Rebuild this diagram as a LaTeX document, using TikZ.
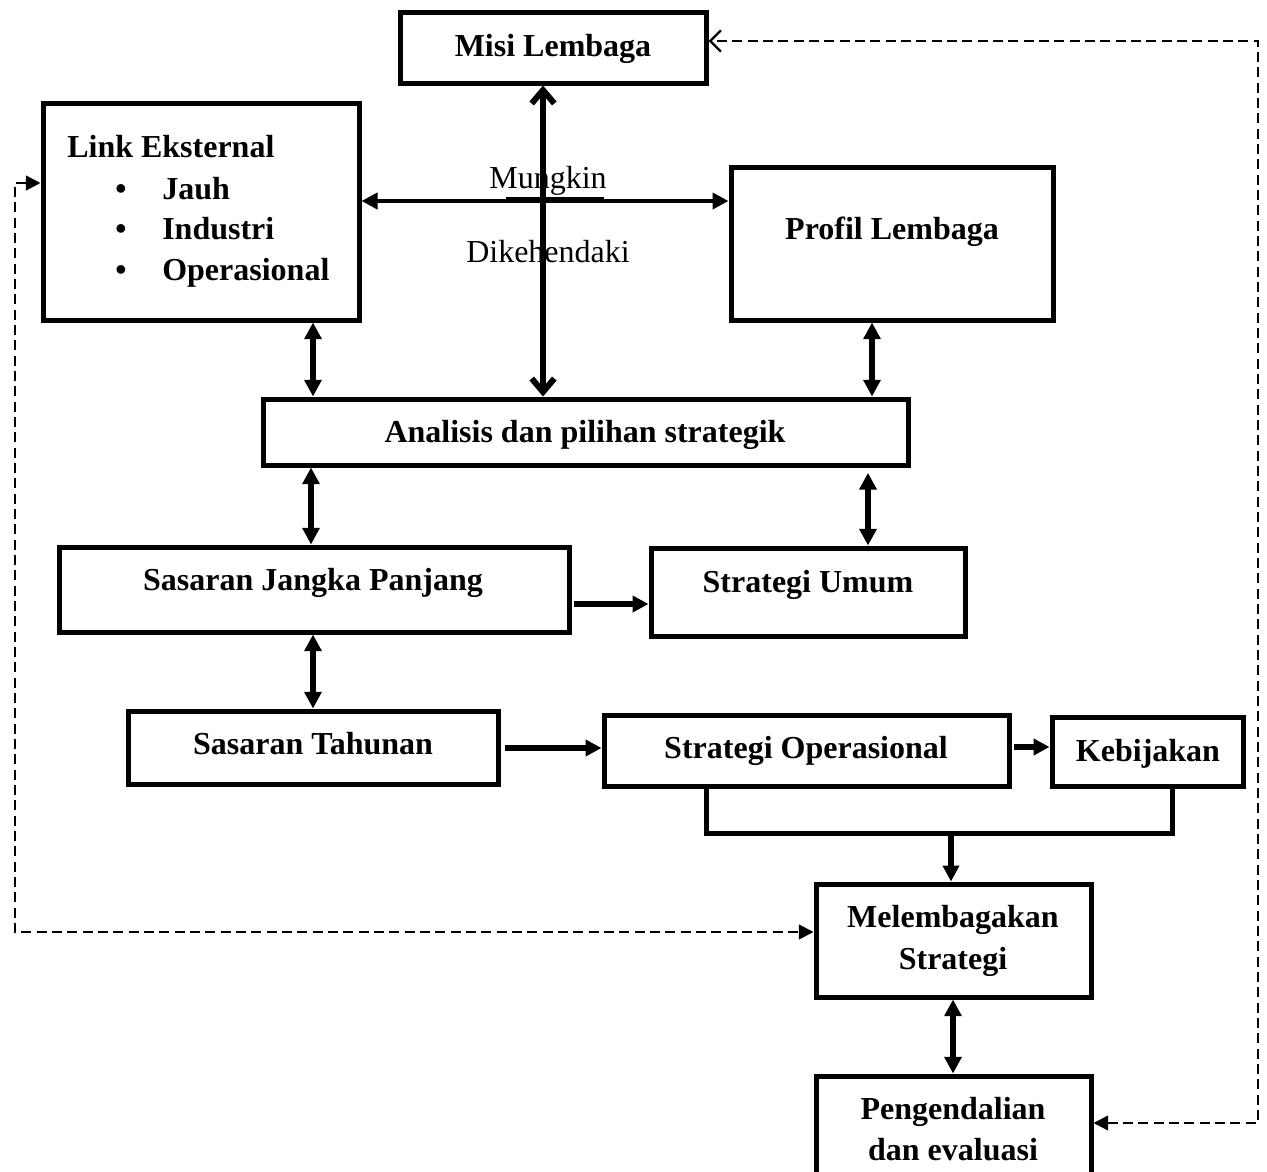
\documentclass[tikz,border=0pt]{standalone}
\usepackage{fontspec}
\setmainfont{Liberation Serif}
\usetikzlibrary{arrows.meta,fit}
\begin{document}
\begin{tikzpicture}[x=0.75pt,y=-0.75pt,
  box/.style={draw, line width=3.75pt, fill=white, inner sep=0pt},
  lbl/.style={font=\fontsize{24}{30}\selectfont\bfseries, inner sep=0pt, anchor=base},
  plainlbl/.style={font=\fontsize{24}{30}\selectfont, inner sep=0pt, anchor=base},
  bothways/.style={line width=4pt,
    {Triangle[length=12.5pt,width=12.5pt]}-{Triangle[length=12.5pt,width=12.5pt]}},
  oneway/.style={line width=4pt, -{Triangle[length=12pt,width=12pt]}},
  barbs/.style={line width=4.5pt,
    {Straight Barb[length=10pt,width=17pt]}-{Straight Barb[length=10pt,width=17pt]}},
  feedback/.style={line width=1.8pt, dash pattern=on 7.5pt off 4pt},
]
\useasboundingbox (0,0) rectangle (1267,1171);

% boxes
\node[box, fit={(400,12) (706,83)}] (misi) {};
\node[box, fit={(43,103) (359,320)}] (link) {};
\node[box, fit={(731,167) (1053,320)}] (profil) {};
\node[box, fit={(263,399) (908,465)}] (ana) {};
\node[box, fit={(59,547) (569,632)}] (sjp) {};
\node[box, fit={(651,548) (965,636)}] (su) {};
\node[box, fit={(128,711) (498,784)}] (st) {};
\node[box, fit={(604,715) (1009,786)}] (so) {};
\node[box, fit={(1052,717) (1243,786)}] (keb) {};
\node[box, fit={(816,884) (1091,997)}] (mel) {};
\node[box, fit={(816,1076) (1091,1190)}] (peng) {};

% labels
\node[lbl] (tmisi) at (553,56) {Misi Lembaga};
\node[lbl, anchor=base west] (tlink) at (67,157) {Link Eksternal};
\node[lbl] (b1) at (121,199) {•};
\node[lbl] (b2) at (121,239) {•};
\node[lbl] (b3) at (121,280) {•};
\node[lbl, anchor=base west] (tjauh) at (162,199) {Jauh};
\node[lbl, anchor=base west] (tind) at (162,239) {Industri};
\node[lbl, anchor=base west] (tops) at (162,280) {Operasional};
\node[plainlbl] (tmung) at (548,188) {Mungkin};
\node[plainlbl] (tdike) at (548,262) {Dikehendaki};
\node[lbl] (tprofil) at (892,239) {Profil Lembaga};
\node[lbl] (tana) at (585,442) {Analisis dan pilihan strategik};
\node[lbl] (tsjp) at (313,590) {Sasaran Jangka Panjang};
\node[lbl] (tsu) at (808,592) {Strategi Umum};
\node[lbl] (tst) at (313,754) {Sasaran Tahunan};
\node[lbl] (tso) at (806,758) {Strategi Operasional};
\node[lbl] (tkeb) at (1148,761) {Kebijakan};
\node[lbl] (tmel1) at (953,927) {Melembagakan};
\node[lbl] (tmel2) at (953,969) {Strategi};
\node[lbl] (tpeng1) at (953,1119) {Pengendalian};
\node[lbl] (tpeng2) at (953,1160) {dan evaluasi};

% column and row guides for the connectors
\coordinate (xmain) at (543,0);
\coordinate (yh) at (0,201);
\coordinate (xl) at (313,0);
\coordinate (xp) at (872,0);
\coordinate (xa) at (311,0);
\coordinate (xu) at (868,0);
\coordinate (y604) at (0,604);
\coordinate (y748) at (0,748);
\coordinate (y747) at (0,747);
\coordinate (xm) at (953,0);
\coordinate (bL) at (706,833);
\coordinate (bR) at (1172,833);
\coordinate (bM) at (951,833);
\coordinate (dR1) at (1258,1123);
\coordinate (dR2) at (1258,41);
\coordinate (dL1) at (15,183);
\coordinate (dL2) at (15,932);
\coordinate (u1) at (506,200);
\coordinate (u2) at (604,200);

% connectors
\draw[line width=3.2pt, {Triangle[length=12pt,width=12pt]}-{Triangle[length=12pt,width=12pt]}]
  (link.east |- yh) -- (profil.west |- yh);
\draw[line width=4.8pt] (u1) -- (u2);
\draw[barbs] (misi.south -| xmain) -- (ana.north -| xmain);
\draw[bothways] (link.south -| xl) -- (ana.north -| xl);
\draw[bothways] (profil.south -| xp) -- (ana.north -| xp);
\draw[bothways] (ana.south -| xa) -- (sjp.north -| xa);
\draw[bothways, shorten <=4pt] (ana.south -| xu) -- (su.north -| xu);
\draw[oneway, shorten <=2pt] (sjp.east |- y604) -- (su.west |- y604);
\draw[bothways] (sjp.south -| xl) -- (st.north -| xl);
\draw[oneway, shorten <=3pt] (st.east |- y748) -- (so.west |- y748);
\draw[oneway, shorten <=2pt] (so.east |- y747) -- (keb.west |- y747);
\draw[line width=3.75pt, line join=miter] (so.south -| bL) -- (bL) -- (bR) -- (keb.south -| bR);
\draw[oneway] (bM) -- (mel.north -| bM);
\draw[bothways] (mel.south -| xm) -- (peng.north -| xm);

% dashed feedback loops
\draw[feedback, {Triangle[length=11pt,width=11pt]}-{Straight Barb[length=8pt,width=16pt,line width=1.8pt]}]
  (peng.east |- dR1) -- (dR1) -- (dR2) -- (misi.east |- dR2);
\draw[feedback, {Triangle[length=11pt,width=11pt]}-{Triangle[length=11pt,width=11pt]}]
  (link.west |- dL1) -- (dL1) -- (dL2) -- (mel.west |- dL2);
\end{tikzpicture}
\end{document}
